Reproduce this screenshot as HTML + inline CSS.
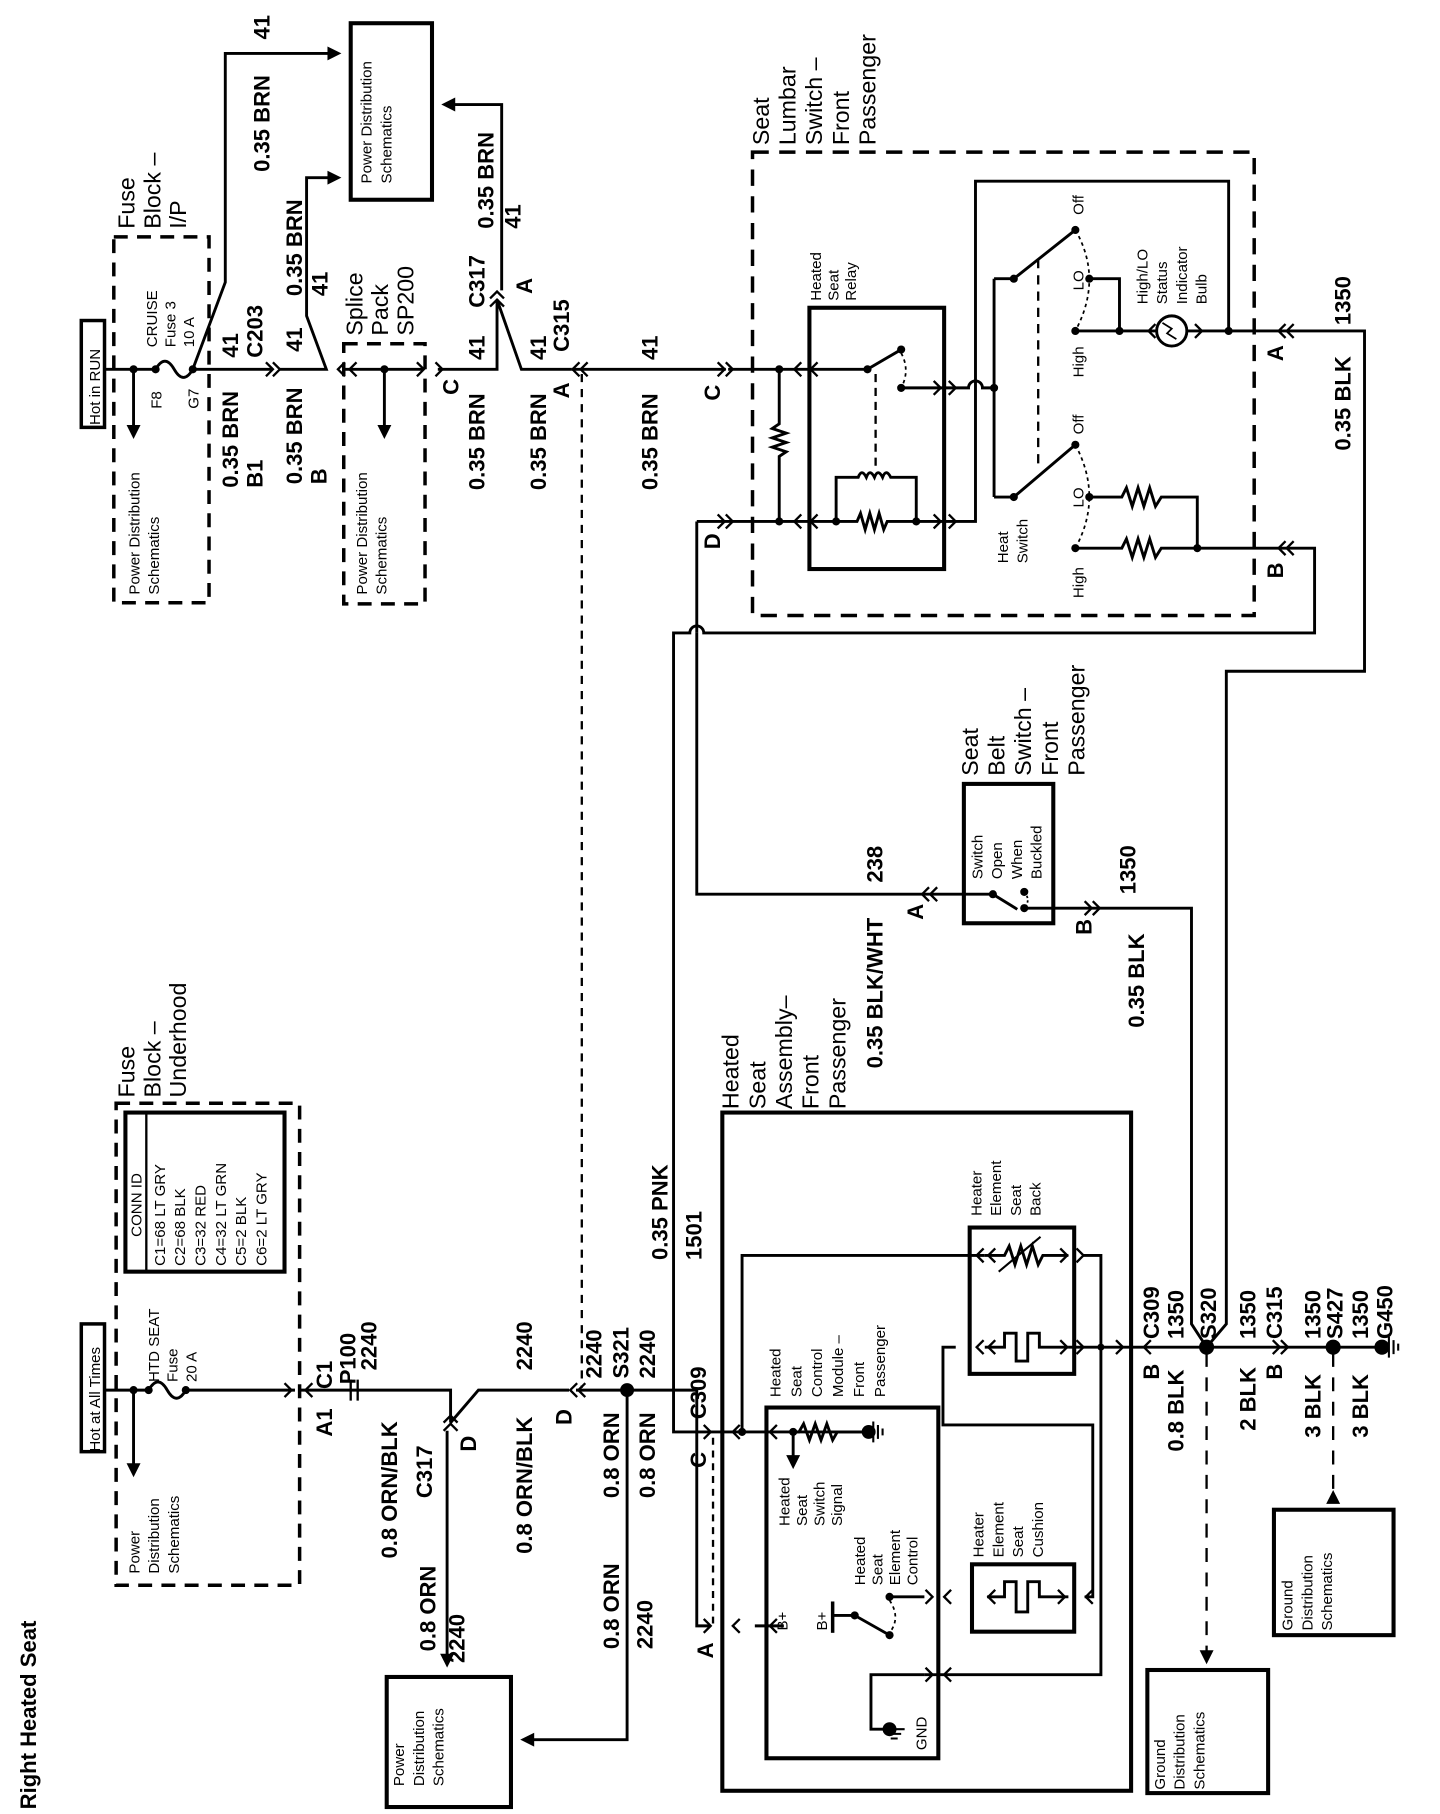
<!DOCTYPE html>
<html><head><meta charset="utf-8"><style>
html,body{margin:0;padding:0;background:#fff}
svg{display:block}
text{font-family:"Liberation Sans",Arial,sans-serif;fill:#000}
.w{font-size:19px;font-weight:bold}
.s{font-size:13px}
.m{font-size:20px}
.t{font-size:19px;font-weight:bold}
</style></head><body>
<svg width="1440" height="1814" viewBox="0 0 1240 1562" preserveAspectRatio="none" xmlns="http://www.w3.org/2000/svg">
<defs>
<path id="c2" d="M-14,-6 L-8,0 L-14,6 M-7,-6 L-1,0 L-7,6" fill="none" stroke="#000" stroke-width="2"/>
<path id="c1" d="M-7,-6 L-1,0 L-7,6" fill="none" stroke="#000" stroke-width="2"/>
<path id="ar" d="M0,0 L-12,-6 L-12,6 Z" fill="#000"/>
<path id="gnd" d="M0,-9 L0,9 M4,-6 L4,6 M8,-3 L8,3" stroke="#000" stroke-width="1.8" fill="none"/>
</defs>
<g fill="none" stroke="#000" stroke-width="2.5">
<rect x="70" y="276" width="20" height="92" stroke-width="3"/>
<rect x="98" y="204" width="82" height="315" stroke-dasharray="12,8" stroke-width="3"/>
<rect x="296" y="296" width="70" height="224" stroke-dasharray="12,8" stroke-width="3"/>
<rect x="302" y="20" width="70" height="152" stroke-width="3.5"/>
<path d="M90,318 H134"/>
<path d="M134,318 q8,-14 16,0 q8,14 16,0"/>
<path d="M166,318 H235"/>
<path d="M115,318 V368"/>
<path d="M166,318 L194,243 V46 H284"/>
<path d="M240,318 H281 L264,272 V153 H284"/>
<path d="M296,318 H364"/>
<path d="M331,318 V368"/>
<path d="M377,318 H428 V258"/>
<path d="M428,258 L449,318 H492"/>
<path d="M432,250 V90 H390"/>
<path d="M492,318 H625"/>
<path d="M501,322 V1195" stroke-dasharray="7,6" stroke-width="2"/>
<rect x="648" y="131" width="432" height="399" stroke-dasharray="14,9" stroke-width="3"/>
<rect x="697" y="265" width="116" height="225" stroke-width="3.5"/>
<path d="M627,318 H747"/>
<path d="M600,449 V545"/>
<path d="M600,449 H720"/>
<path d="M671,318 V365 l-6,4 12,4 -12,4 12,4 -12,4 12,4 -6,4 V449"/>
<path d="M747,318 L776,301"/>
<path d="M754,322 V405" stroke-dasharray="7,5" stroke-width="2"/>
<path d="M776,304 q8,15 0,30" stroke-dasharray="3,3" stroke-width="1.5"/>
<path d="M776,334 H834 a6,6 0 0 1 12,0 H856"/>
<path d="M720,449 V411 H739 q3,-8 7,0 q3,-8 7,0 q3,-8 7,0 q3,-8 7,0 H789 V449"/>
<path d="M720,449 H738 l3,-7 4,14 4,-14 4,14 4,-14 4,14 3,-7 H821 H840 V156 H1058 V285"/>
<path d="M856,240 V428"/>
<path d="M856,240 H873 L926,198"/>
<path d="M856,428 H873 L926,383"/>
<path d="M894,223 V402" stroke-dasharray="8,6" stroke-width="2"/>
<path d="M926,198 Q950,240 926,285" stroke-dasharray="3,3" stroke-width="1.5"/>
<path d="M926,383 Q950,428 926,472" stroke-dasharray="3,3" stroke-width="1.5"/>
<path d="M938,240 H964 V285"/>
<path d="M926,285 H996"/>
<circle cx="1009" cy="285" r="13"/>
<path d="M1022,285 H1175 V578 H1056 V1140 L1039,1160"/>
<path d="M938,428 H966 l4,-8 5,16 5,-16 5,16 5,-16 5,16 5,-8 H1031 V472"/>
<path d="M926,472 H966 l4,-8 5,16 5,-16 5,16 5,-16 5,16 5,-8 H1132 V545 H606 a6,6 0 0 0 -12,0 H580 V1233 H611"/>
<path d="M600,545 V770 H855"/>
<rect x="830" y="675" width="77" height="120" stroke-width="3.5"/>
<path d="M855,770 L876,783"/>
<path d="M882,782 H1026 V1140 L1039,1160"/>
<path d="M882,768 q6,7 0,14" stroke-dasharray="2,2" stroke-width="1.5"/>
<rect x="70" y="1140" width="20" height="110" stroke-width="3"/>
<rect x="100" y="950" width="158" height="415" stroke-dasharray="12,8" stroke-width="3"/>
<rect x="108" y="958" width="137" height="137" stroke-width="3.5"/>
<path d="M126,958 V1095" stroke-width="2"/>
<rect x="333" y="1444" width="107" height="112" stroke-width="3.5"/>
<path d="M90,1197 H128"/>
<path d="M128,1197 q8,-14 16,0 q8,14 16,0"/>
<path d="M160,1197 H254"/>
<path d="M115,1197 V1262"/>
<path d="M258,1197 H388 V1225"/>
<path d="M302,1188 V1206 M308,1188 V1206" stroke-width="2"/>
<path d="M388,1225 L412,1197 H490"/>
<path d="M385,1232 V1426"/>
<path d="M496,1197 H600 V1400 H611"/>
<path d="M540,1197 V1498 H455"/>
<path d="M614,1238 V1400" stroke-dasharray="6,5" stroke-width="2"/>
<rect x="622" y="958" width="352" height="584" stroke-width="3.5"/>
<rect x="660" y="1212" width="148" height="302" stroke-width="3.5"/>
<rect x="835" y="1057" width="90" height="126" stroke-width="3.5"/>
<rect x="837" y="1347" width="88" height="58" stroke-width="3.5"/>
<path d="M611,1233 H683 L745,1233"/>
<path d="M683,1233 H688 l4,-7 5,14 5,-14 5,14 5,-14 5,14 4,-7 H745"/>
<path d="M683,1233 V1255"/>
<path d="M639,1233 V1081 H848"/>
<path d="M848,1081 H865 l4,-8 5,16 5,-16 5,16 5,-16 5,16 4,-8 H920"/>
<path d="M860,1095 L896,1065" stroke-width="1.8"/>
<path d="M932,1081 H948 V1442 H796"/>
<path d="M848,1160 H865 V1148 H875 V1172 H885 V1148 H895 V1160 H920"/>
<path d="M920,1160 H1039 H1190"/>
<path d="M823,1160 H812 V1227 H941 V1375 H934"/>
<path d="M850,1375 H865 V1362 H875 V1388 H885 V1362 H895 V1375 H920"/>
<path d="M766,1375 H796"/>
<path d="M717,1379 V1406" stroke-width="3"/>
<path d="M717,1391 H736 L766,1408"/>
<path d="M766,1378 q10,15 0,28" stroke-dasharray="3,3" stroke-width="1.5"/>
<path d="M650,1400 H675"/>
<path d="M796,1442 H750 V1489 H762"/>
<rect x="988" y="1438" width="104" height="106" stroke-width="3.5"/>
<rect x="1097" y="1300" width="103" height="108" stroke-width="3.5"/>
<path d="M1039,1165 V1425" stroke-dasharray="12,9" stroke-width="2"/>
<path d="M1148,1165 V1290" stroke-dasharray="12,9" stroke-width="2"/>
</g>
<use href="#ar" transform="translate(294,46)"/>
<use href="#ar" transform="translate(294,153)"/>
<use href="#ar" transform="translate(380,90) rotate(180)"/>
<use href="#ar" transform="translate(115,378) rotate(90)"/>
<use href="#ar" transform="translate(331,378) rotate(90)"/>
<use href="#ar" transform="translate(115,1272) rotate(90)"/>
<use href="#ar" transform="translate(385,1436) rotate(90)"/>
<use href="#ar" transform="translate(448,1498) rotate(180)"/>
<use href="#ar" transform="translate(683,1265) rotate(90)"/>
<use href="#ar" transform="translate(1039,1433) rotate(90)"/>
<use href="#ar" transform="translate(1148,1283) rotate(-90)"/>
<g>
<use href="#c1" transform="translate(242,318)"/><use href="#c1" transform="translate(236,318)"/>
<use href="#c1" transform="translate(290,318) rotate(180)"/>
<use href="#c1" transform="translate(300,318) rotate(180)"/>
<use href="#c1" transform="translate(366,318)"/>
<use href="#c1" transform="translate(382,318)"/>
<use href="#c2" transform="translate(428,250) rotate(-90)"/>
<use href="#c2" transform="translate(492,318) rotate(180)"/>
<use href="#c2" transform="translate(632,318)"/>
<use href="#c2" transform="translate(632,449)"/>
<use href="#c1" transform="translate(683,318) rotate(180)"/>
<use href="#c1" transform="translate(683,449) rotate(180)"/>
<use href="#c1" transform="translate(697,318) rotate(180)"/>
<use href="#c1" transform="translate(697,449) rotate(180)"/>
<use href="#c1" transform="translate(811,334)"/>
<use href="#c1" transform="translate(811,449)"/>
<use href="#c1" transform="translate(824,334)"/>
<use href="#c1" transform="translate(824,449)"/>
<use href="#c1" transform="translate(988,285) rotate(180)"/>
<use href="#c1" transform="translate(1036,285)"/>
<use href="#c2" transform="translate(1100,285) rotate(180)"/>
<use href="#c2" transform="translate(1100,472) rotate(180)"/>
<use href="#c2" transform="translate(793,770) rotate(180)"/>
<use href="#c2" transform="translate(948,782)"/>
<use href="#c1" transform="translate(252,1197)"/><use href="#c1" transform="translate(262,1197) rotate(180)"/>
<use href="#c2" transform="translate(388,1218) rotate(-90)"/>
<use href="#c2" transform="translate(490,1197) rotate(180)"/>
<use href="#c1" transform="translate(613,1233)"/>
<use href="#c1" transform="translate(613,1400)"/>
<use href="#c1" transform="translate(630,1233) rotate(180)"/>
<use href="#c1" transform="translate(630,1400) rotate(180)"/>
<use href="#c1" transform="translate(662,1233) rotate(180)"/>
<use href="#c1" transform="translate(662,1400) rotate(180)"/>
<use href="#c1" transform="translate(840,1081) rotate(180)"/>
<use href="#c1" transform="translate(840,1160) rotate(180)"/>
<use href="#c1" transform="translate(850,1081) rotate(180)"/>
<use href="#c1" transform="translate(850,1160) rotate(180)"/>
<use href="#c1" transform="translate(920,1081)"/><use href="#c1" transform="translate(934,1081)"/>
<use href="#c1" transform="translate(920,1160)"/><use href="#c1" transform="translate(934,1160)"/>
<use href="#c1" transform="translate(850,1375) rotate(180)"/>
<use href="#c1" transform="translate(918,1375)"/><use href="#c1" transform="translate(934,1375) rotate(180)"/>
<use href="#c1" transform="translate(804,1375)"/><use href="#c1" transform="translate(812,1375) rotate(180)"/>
<use href="#c1" transform="translate(804,1442)"/><use href="#c1" transform="translate(812,1442) rotate(180)"/>
<use href="#c1" transform="translate(968,1160)"/><use href="#c1" transform="translate(984,1160) rotate(180)"/>
<use href="#c2" transform="translate(1110,1160)"/>
<use href="#gnd" transform="translate(1196,1160)"/>
<use href="#gnd" transform="translate(752,1233)"/>
<use href="#gnd" transform="translate(770,1489) rotate(90)"/>
</g>
<g fill="#000">
<circle cx="115" cy="318" r="3.5"/><circle cx="134" cy="318" r="3.5"/><circle cx="166" cy="318" r="3.5"/>
<circle cx="331" cy="318" r="3.5"/>
<circle cx="671" cy="318" r="3.5"/><circle cx="671" cy="449" r="3.5"/>
<circle cx="747" cy="318" r="3.5"/><circle cx="776" cy="301" r="3.5"/><circle cx="776" cy="334" r="3.5"/>
<circle cx="720" cy="449" r="3.5"/><circle cx="789" cy="449" r="3.5"/>
<circle cx="856" cy="334" r="3.5"/>
<circle cx="873" cy="240" r="3.5"/><circle cx="926" cy="198" r="3.5"/><circle cx="938" cy="240" r="3.5"/><circle cx="926" cy="285" r="3.5"/><circle cx="964" cy="285" r="3.5"/><circle cx="1058" cy="285" r="3.5"/>
<circle cx="873" cy="428" r="3.5"/><circle cx="926" cy="383" r="3.5"/><circle cx="938" cy="428" r="3.5"/><circle cx="926" cy="472" r="3.5"/><circle cx="1031" cy="472" r="3.5"/>
<circle cx="855" cy="770" r="3.5"/><circle cx="882" cy="768" r="3.5"/><circle cx="882" cy="782" r="3.5"/>
<circle cx="115" cy="1197" r="3.5"/><circle cx="128" cy="1197" r="3.5"/><circle cx="160" cy="1197" r="3.5"/>
<circle cx="540" cy="1197" r="6"/>
<circle cx="639" cy="1233" r="3.5"/><circle cx="683" cy="1233" r="3.5"/><circle cx="748" cy="1233" r="6"/>
<circle cx="736" cy="1391" r="3.5"/><circle cx="766" cy="1408" r="3.5"/><circle cx="766" cy="1375" r="3.5"/>
<circle cx="766" cy="1489" r="6"/>
<circle cx="948" cy="1160" r="3"/>
<circle cx="1039" cy="1160" r="6.5"/><circle cx="1148" cy="1160" r="6.5"/><circle cx="1190" cy="1160" r="6.5"/>
<path d="M1001,278 l8,5 -4,4 8,5" fill="none" stroke="#000" stroke-width="1.5"/>
</g>
<text class="t" transform="translate(31,1558) rotate(-90)">Right Heated Seat</text>
<text class="s" transform="translate(86,366) rotate(-90)">Hot in RUN</text>
<text class="m" transform="translate(116,197) rotate(-90)">Fuse<tspan x="0" dy="22">Block –</tspan><tspan x="0" dy="22">I/P</tspan></text>
<text class="s" transform="translate(135,299) rotate(-90)">CRUISE<tspan x="0" dy="16">Fuse 3</tspan><tspan x="0" dy="16">10 A</tspan></text>
<text class="s" transform="translate(139,352) rotate(-90)">F8</text>
<text class="s" transform="translate(171,352) rotate(-90)">G7</text>
<text class="s" transform="translate(120,512) rotate(-90)">Power Distribution<tspan x="0" dy="17">Schematics</tspan></text>
<text class="w" transform="translate(205,308) rotate(-90)">41<tspan x="0" dy="21">C203</tspan></text>
<text class="w" transform="translate(205,420) rotate(-90)">0.35 BRN<tspan x="0" dy="21">B1</tspan></text>
<text class="w" transform="translate(232,34) rotate(-90)">41</text>
<text class="w" transform="translate(232,148) rotate(-90)">0.35 BRN</text>
<text class="w" transform="translate(260,255) rotate(-90)">0.35 BRN</text>
<text class="w" transform="translate(282,255) rotate(-90)">41</text>
<text class="w" transform="translate(260,303) rotate(-90)">41</text>
<text class="w" transform="translate(260,417) rotate(-90)">0.35 BRN<tspan x="0" dy="21">B</tspan></text>
<text class="m" transform="translate(312,289) rotate(-90)">Splice<tspan x="0" dy="22">Pack</tspan><tspan x="0" dy="22">SP200</tspan></text>
<text class="s" transform="translate(316,512) rotate(-90)">Power Distribution<tspan x="0" dy="17">Schematics</tspan></text>
<text class="s" transform="translate(320,158) rotate(-90)">Power Distribution<tspan x="0" dy="17">Schematics</tspan></text>
<text class="w" transform="translate(395,340) rotate(-90)">C</text>
<text class="w" transform="translate(417,265) rotate(-90)">C317</text>
<text class="w" transform="translate(417,310) rotate(-90)">41</text>
<text class="w" transform="translate(417,422) rotate(-90)">0.35 BRN</text>
<text class="w" transform="translate(425,197) rotate(-90)">0.35 BRN</text>
<text class="w" transform="translate(448,197) rotate(-90)">41</text>
<text class="w" transform="translate(458,253) rotate(-90)">A</text>
<text class="w" transform="translate(470,310) rotate(-90)">41</text>
<text class="w" transform="translate(490,303) rotate(-90)">C315</text>
<text class="w" transform="translate(470,422) rotate(-90)">0.35 BRN</text>
<text class="w" transform="translate(490,343) rotate(-90)">A</text>
<text class="w" transform="translate(566,310) rotate(-90)">41</text>
<text class="w" transform="translate(566,422) rotate(-90)">0.35 BRN</text>
<text class="w" transform="translate(620,345) rotate(-90)">C</text>
<text class="w" transform="translate(620,473) rotate(-90)">D</text>
<text class="m" transform="translate(662,125) rotate(-90)">Seat<tspan x="0" dy="23">Lumbar</tspan><tspan x="0" dy="23">Switch –</tspan><tspan x="0" dy="23">Front</tspan><tspan x="0" dy="23">Passenger</tspan></text>
<text class="s" transform="translate(707,259) rotate(-90)">Heated<tspan x="0" dy="15">Seat</tspan><tspan x="0" dy="15">Relay</tspan></text>
<text class="s" transform="translate(933,185) rotate(-90)">Off</text>
<text class="s" transform="translate(933,250) rotate(-90)">LO</text>
<text class="s" transform="translate(933,325) rotate(-90)">High</text>
<text class="s" transform="translate(933,374) rotate(-90)">Off</text>
<text class="s" transform="translate(933,437) rotate(-90)">LO</text>
<text class="s" transform="translate(933,515) rotate(-90)">High</text>
<text class="s" transform="translate(868,485) rotate(-90)">Heat<tspan x="0" dy="17">Switch</tspan></text>
<text class="s" transform="translate(988,262) rotate(-90)">High/LO<tspan x="0" dy="17">Status</tspan><tspan x="0" dy="17">Indicator</tspan><tspan x="0" dy="17">Bulb</tspan></text>
<text class="w" transform="translate(1105,311) rotate(-90)">A</text>
<text class="w" transform="translate(1105,498) rotate(-90)">B</text>
<text class="w" transform="translate(1163,280) rotate(-90)">1350</text>
<text class="w" transform="translate(1163,388) rotate(-90)">0.35 BLK</text>
<text class="m" transform="translate(842,668) rotate(-90)">Seat<tspan x="0" dy="23">Belt</tspan><tspan x="0" dy="23">Switch –</tspan><tspan x="0" dy="23">Front</tspan><tspan x="0" dy="23">Passenger</tspan></text>
<text class="s" transform="translate(846,757) rotate(-90)">Switch<tspan x="0" dy="17">Open</tspan><tspan x="0" dy="17">When</tspan><tspan x="0" dy="17">Buckled</tspan></text>
<text class="w" transform="translate(760,760) rotate(-90)">238</text>
<text class="w" transform="translate(760,920) rotate(-90)">0.35 BLK/WHT</text>
<text class="w" transform="translate(795,792) rotate(-90)">A</text>
<text class="w" transform="translate(940,805) rotate(-90)">B</text>
<text class="w" transform="translate(978,770) rotate(-90)">1350</text>
<text class="w" transform="translate(985,885) rotate(-90)">0.35 BLK</text>
<text class="s" transform="translate(86,1250) rotate(-90)">Hot at All Times</text>
<text class="m" transform="translate(116,945) rotate(-90)">Fuse<tspan x="0" dy="22">Block –</tspan><tspan x="0" dy="22">Underhood</tspan></text>
<text class="s" transform="translate(122,1065) rotate(-90)">CONN ID</text>
<text class="s" transform="translate(142,1090) rotate(-90)">C1=68 LT GRY<tspan x="0" dy="17.5">C2=68 BLK</tspan><tspan x="0" dy="17.5">C3=32 RED</tspan><tspan x="0" dy="17.5">C4=32 LT GRN</tspan><tspan x="0" dy="17.5">C5=2 BLK</tspan><tspan x="0" dy="17.5">C6=2 LT GRY</tspan></text>
<text class="s" transform="translate(137,1190) rotate(-90)">HTD SEAT<tspan x="0" dy="16">Fuse</tspan><tspan x="0" dy="16">20 A</tspan></text>
<text class="s" transform="translate(120,1355) rotate(-90)">Power<tspan x="0" dy="17">Distribution</tspan><tspan x="0" dy="17">Schematics</tspan></text>
<text class="w" transform="translate(286,1196) rotate(-90)">C1</text>
<text class="w" transform="translate(286,1237) rotate(-90)">A1</text>
<text class="w" transform="translate(306,1192) rotate(-90)">P100</text>
<text class="w" transform="translate(324,1180) rotate(-90)">2240</text>
<text class="w" transform="translate(342,1342) rotate(-90)">0.8 ORN/BLK</text>
<text class="w" transform="translate(372,1290) rotate(-90)">C317</text>
<text class="w" transform="translate(410,1250) rotate(-90)">D</text>
<text class="w" transform="translate(375,1422) rotate(-90)">0.8 ORN</text>
<text class="w" transform="translate(400,1432) rotate(-90)">2240</text>
<text class="s" transform="translate(348,1538) rotate(-90)">Power<tspan x="0" dy="17">Distribution</tspan><tspan x="0" dy="17">Schematics</tspan></text>
<text class="w" transform="translate(458,1180) rotate(-90)">2240</text>
<text class="w" transform="translate(458,1338) rotate(-90)">0.8 ORN/BLK</text>
<text class="w" transform="translate(492,1227) rotate(-90)">D</text>
<text class="w" transform="translate(518,1187) rotate(-90)">2240</text>
<text class="w" transform="translate(541,1187) rotate(-90)">S321</text>
<text class="w" transform="translate(564,1187) rotate(-90)">2240</text>
<text class="w" transform="translate(533,1290) rotate(-90)">0.8 ORN</text>
<text class="w" transform="translate(564,1290) rotate(-90)">0.8 ORN</text>
<text class="w" transform="translate(533,1420) rotate(-90)">0.8 ORN</text>
<text class="w" transform="translate(562,1420) rotate(-90)">2240</text>
<text class="w" transform="translate(575,1085) rotate(-90)">0.35 PNK</text>
<text class="w" transform="translate(604,1085) rotate(-90)">1501</text>
<text class="w" transform="translate(608,1222) rotate(-90)">C309</text>
<text class="w" transform="translate(608,1264) rotate(-90)">C</text>
<text class="w" transform="translate(614,1428) rotate(-90)">A</text>
<text class="m" transform="translate(636,955) rotate(-90)">Heated<tspan x="0" dy="23">Seat</tspan><tspan x="0" dy="23">Assembly–</tspan><tspan x="0" dy="23">Front</tspan><tspan x="0" dy="23">Passenger</tspan></text>
<text class="s" transform="translate(672,1203) rotate(-90)">Heated<tspan x="0" dy="18">Seat</tspan><tspan x="0" dy="18">Control</tspan><tspan x="0" dy="18">Module –</tspan><tspan x="0" dy="18">Front</tspan><tspan x="0" dy="18">Passenger</tspan></text>
<text class="s" transform="translate(680,1314) rotate(-90)">Heated<tspan x="0" dy="15">Seat</tspan><tspan x="0" dy="15">Switch</tspan><tspan x="0" dy="15">Signal</tspan></text>
<text class="s" transform="translate(745,1365) rotate(-90)">Heated<tspan x="0" dy="15">Seat</tspan><tspan x="0" dy="15">Element</tspan><tspan x="0" dy="15">Control</tspan></text>
<text class="s" transform="translate(678,1404) rotate(-90)">B+</text>
<text class="s" transform="translate(712,1404) rotate(-90)">B+</text>
<text class="s" transform="translate(798,1507) rotate(-90)">GND</text>
<text class="s" transform="translate(845,1047) rotate(-90)">Heater<tspan x="0" dy="17">Element</tspan><tspan x="0" dy="17">Seat</tspan><tspan x="0" dy="17">Back</tspan></text>
<text class="s" transform="translate(847,1341) rotate(-90)">Heater<tspan x="0" dy="17">Element</tspan><tspan x="0" dy="17">Seat</tspan><tspan x="0" dy="17">Cushion</tspan></text>
<text class="s" transform="translate(1003,1541) rotate(-90)">Ground<tspan x="0" dy="17">Distribution</tspan><tspan x="0" dy="17">Schematics</tspan></text>
<text class="s" transform="translate(1113,1404) rotate(-90)">Ground<tspan x="0" dy="17">Distribution</tspan><tspan x="0" dy="17">Schematics</tspan></text>
<text class="w" transform="translate(998,1153) rotate(-90)">C309</text>
<text class="w" transform="translate(1019,1153) rotate(-90)">1350</text>
<text class="w" transform="translate(1047,1153) rotate(-90)">S320</text>
<text class="w" transform="translate(1081,1153) rotate(-90)">1350</text>
<text class="w" transform="translate(1104,1153) rotate(-90)">C315</text>
<text class="w" transform="translate(1137,1153) rotate(-90)">1350</text>
<text class="w" transform="translate(1156,1153) rotate(-90)">S427</text>
<text class="w" transform="translate(1178,1153) rotate(-90)">1350</text>
<text class="w" transform="translate(1199,1153) rotate(-90)">G450</text>
<text class="w" transform="translate(998,1188) rotate(-90)">B</text>
<text class="w" transform="translate(1019,1250) rotate(-90)">0.8 BLK</text>
<text class="w" transform="translate(1081,1232) rotate(-90)">2 BLK</text>
<text class="w" transform="translate(1104,1188) rotate(-90)">B</text>
<text class="w" transform="translate(1137,1238) rotate(-90)">3 BLK</text>
<text class="w" transform="translate(1178,1238) rotate(-90)">3 BLK</text>
</svg>
</body></html>
